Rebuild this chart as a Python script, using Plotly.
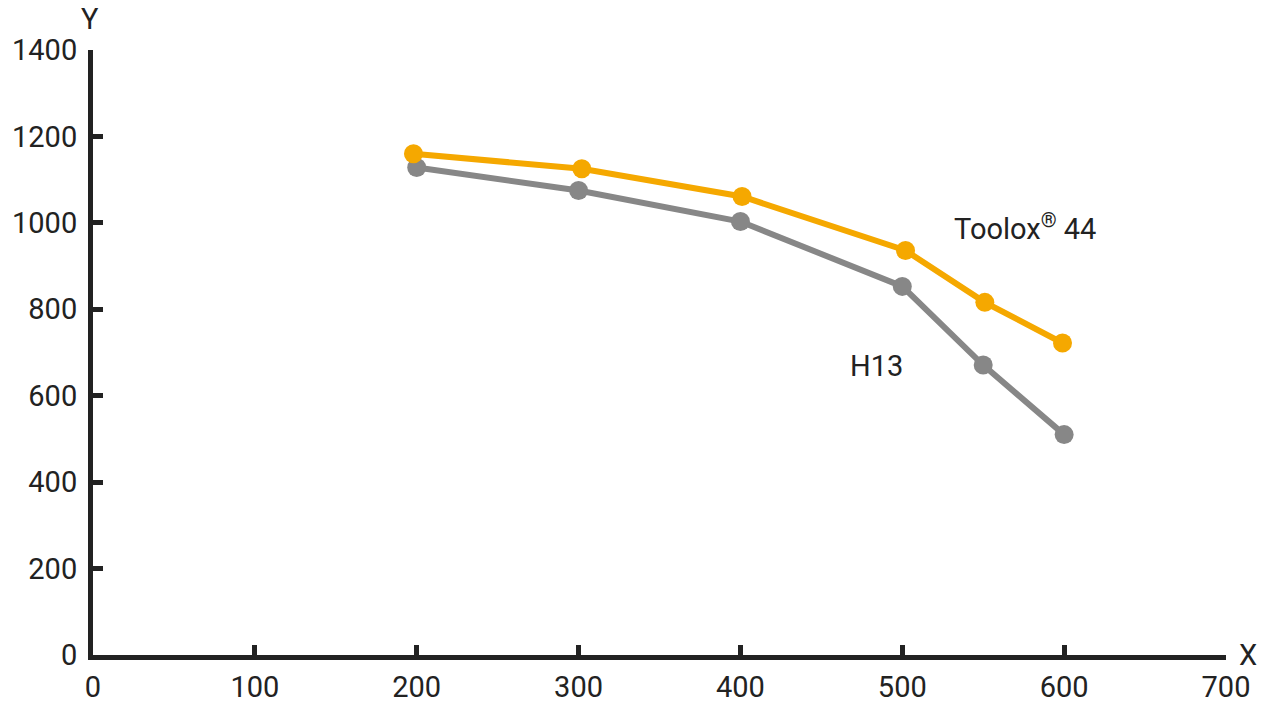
import plotly.graph_objects as go

toolox_x = [198, 302, 401, 502, 551, 599]
toolox_y = [1160, 1125, 1061, 936, 816, 722]
h13_x = [200, 300, 400, 500, 550, 600]
h13_y = [1128, 1075, 1003, 853, 671, 510]
x_ticks = [0, 100, 200, 300, 400, 500, 600, 700]
y_ticks = [0, 200, 400, 600, 800, 1000, 1200, 1400]

ORANGE = "#F5A800"
GRAY = "#878787"
DARK = "#222222"
FONT = "Roboto"

fig = go.Figure()
fig.add_trace(go.Scatter(x=h13_x, y=h13_y, mode="lines+markers",
                         line=dict(color=GRAY, width=6),
                         marker=dict(color=GRAY, size=19), name="H13"))
fig.add_trace(go.Scatter(x=toolox_x, y=toolox_y, mode="lines+markers",
                         line=dict(color=ORANGE, width=6),
                         marker=dict(color=ORANGE, size=19), name="Toolox® 44"))

fig.add_annotation(x=576, y=990, text="Toolox<sup>®</sup> 44", showarrow=False,
                   font=dict(family=FONT, size=29, color=DARK))
fig.add_annotation(x=484, y=669, text="H13", showarrow=False,
                   font=dict(family=FONT, size=29, color=DARK))
fig.add_annotation(xref="paper", yref="paper", x=0, y=1, xanchor="center", yanchor="middle",
                   xshift=-3, yshift=31, text="Y", borderpad=0,
                   showarrow=False, font=dict(family=FONT, size=29, color=DARK))
fig.add_annotation(xref="paper", yref="paper", x=1, y=0, xanchor="center", yanchor="middle",
                   xshift=22, text="X",
                   showarrow=False, font=dict(family=FONT, size=29, color=DARK))

axis_common = dict(showgrid=False, zeroline=False, showline=True, linecolor=DARK,
                   linewidth=5, ticks="inside", ticklen=10, tickwidth=5, tickcolor=DARK,
                   automargin=False,
                   tickfont=dict(family=FONT, size=29, color=DARK))
fig.update_xaxes(range=[0, 700], tickvals=x_ticks, ticklabelstandoff=2, **axis_common)
fig.update_yaxes(range=[0, 1400], tickvals=y_ticks, ticklabelstandoff=5, **axis_common)

fig.update_layout(width=1280, height=720, showlegend=False,
                  plot_bgcolor="white", paper_bgcolor="white",
                  margin=dict(l=85, r=62, t=42, b=73),
                  font=dict(family=FONT, color=DARK))

fig.write_html("out.html")
